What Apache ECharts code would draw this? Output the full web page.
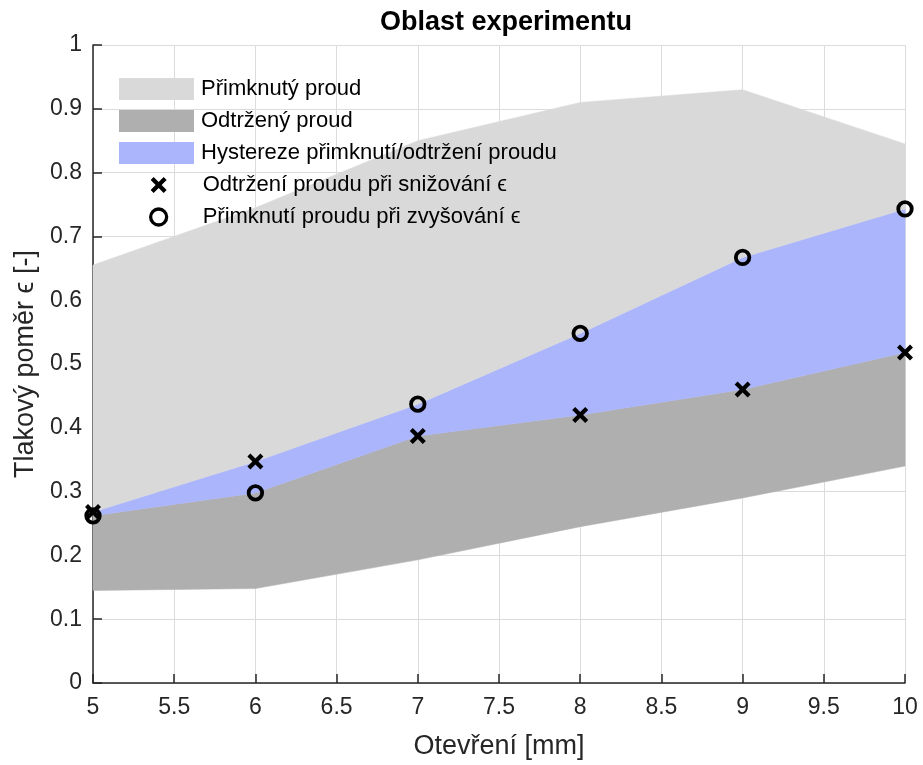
<!DOCTYPE html>
<html>
<head>
<meta charset="utf-8">
<script src="https://cdn.jsdelivr.net/npm/echarts@6/dist/echarts.min.js"></script>
<style>
  html, body { margin: 0; padding: 0; background: #fff; }
  #chart { width: 923px; height: 765px; }
</style>
</head>
<body>
<div id="chart"></div>
<script>
// data
var otevreni = [5, 6, 7, 8, 9, 10];
var odtrzeniX = [0.268, 0.347, 0.387, 0.42, 0.46, 0.518];   // x marks
var primknutiO = [0.262, 0.298, 0.437, 0.548, 0.667, 0.743]; // circles
var dolniMez = [0.145, 0.148, 0.193, 0.245, 0.29, 0.34];     // bottom of dark area
var horniMez = [0.655, 0.745, 0.85, 0.91, 0.93, 0.845];      // top of light area
var xTicks = ['5', '5.5', '6', '6.5', '7', '7.5', '8', '8.5', '9', '9.5', '10'];
var yTicks = ['0', '0.1', '0.2', '0.3', '0.4', '0.5', '0.6', '0.7', '0.8', '0.9', '1'];

var textColor = '#262626';
var font = 'Liberation Sans';

// band edges
var spodek = otevreni.map(function (x, i) { return Math.min(odtrzeniX[i], primknutiO[i]); });
var vrsek = otevreni.map(function (x, i) { return Math.max(odtrzeniX[i], primknutiO[i]); });

function pairs(vals) {
  return otevreni.map(function (x, i) { return [x, vals[i]]; });
}

// one filled polygon between two edges
function band(name, dolni, horni, color) {
  return {
    name: name,
    type: 'custom',
    silent: true,
    itemStyle: { color: color },
    data: [[otevreni[0], horni[0]]],
    renderItem: function (params, api) {
      var pts = [];
      otevreni.forEach(function (x, i) { pts.push(api.coord([x, horni[i]])); });
      for (var i = otevreni.length - 1; i >= 0; i--) pts.push(api.coord([otevreni[i], dolni[i]]));
      return {
        type: 'polygon',
        shape: { points: pts },
        style: { fill: color, stroke: color, lineWidth: 0.5 }
      };
    },
    z: 1
  };
}

var crossPath = 'path://M0,3 L3,0 L8,5 L13,0 L16,3 L11,8 L16,13 L13,16 L8,11 L3,16 L0,13 L5,8 Z';
var kruhStyle = { color: 'rgba(0,0,0,0)', borderColor: '#000', borderWidth: 3.8, opacity: 1 };

var chart = echarts.init(document.getElementById('chart'));
chart.setOption({
  animation: false,
  title: {
    text: 'Oblast experimentu',
    left: 501,
    textAlign: 'center',
    top: 4,
    textStyle: { fontFamily: font, fontSize: 27, fontWeight: 'bold', color: '#000' }
  },
  grid: { left: 93, right: 18, top: 45, bottom: 80 },
  legend: [
    {
      orient: 'vertical',
      left: 119,
      top: 78,
      padding: 0,
      itemWidth: 75,
      itemHeight: 22,
      itemGap: 10,
      icon: 'rect',
      textStyle: { fontFamily: font, fontSize: 22, lineHeight: 22, color: '#000', padding: [0, 0, 0, 2] },
      data: [
        { name: 'Přimknutý proud', itemStyle: { color: '#d9d9d9' } },
        { name: 'Odtržený proud', itemStyle: { color: '#afafaf' } },
        { name: 'Hystereze přimknutí/odtržení proudu', itemStyle: { color: '#abb5fc' } }
      ]
    },
    {
      orient: 'vertical',
      left: 149,
      top: 174,
      padding: 0,
      itemWidth: 16,
      itemHeight: 22,
      itemGap: 10,
      textStyle: { fontFamily: font, fontSize: 22, lineHeight: 22, color: '#000', padding: [0, 0, 0, 31] },
      data: [
        { name: 'Odtržení proudu při snižování ϵ' },
        { name: 'Přimknutí proudu při zvyšování ϵ', itemStyle: { color: 'rgba(0,0,0,0)', borderColor: '#000', borderWidth: 3.3, opacity: 1 } }
      ]
    }
  ],
  xAxis: {
    type: 'value',
    min: 5,
    max: 10,
    interval: 0.5,
    name: 'Otevření [mm]',
    nameLocation: 'middle',
    nameGap: 50,
    nameTextStyle: { fontFamily: font, fontSize: 27, color: textColor },
    axisLine: { lineStyle: { color: textColor, width: 1.5 } },
    axisTick: { inside: true, length: 9, lineStyle: { color: textColor, width: 1.5 } },
    axisLabel: {
      fontFamily: font, fontSize: 23, color: textColor, margin: 13,
      formatter: function (v) { return xTicks[Math.round((v - 5) * 2)]; }
    },
    splitLine: { show: true, lineStyle: { color: '#dcdcdc', width: 1 } }
  },
  yAxis: {
    type: 'value',
    min: 0,
    max: 1,
    interval: 0.1,
    name: 'Tlakový poměr ϵ [-]',
    nameLocation: 'middle',
    nameGap: 54,
    nameTextStyle: { fontFamily: font, fontSize: 27, color: textColor },
    axisLine: { show: true, lineStyle: { color: textColor, width: 1.5 } },
    axisTick: { show: true, inside: true, length: 9, lineStyle: { color: textColor, width: 1.5 } },
    axisLabel: {
      fontFamily: font, fontSize: 23, color: textColor, margin: 11,
      formatter: function (v) { return yTicks[Math.round(v * 10)]; }
    },
    splitLine: { show: true, lineStyle: { color: '#dcdcdc', width: 1 } }
  },
  series: [
    band('Odtržený proud', dolniMez, spodek, '#afafaf'),
    band('Hystereze přimknutí/odtržení proudu', spodek, vrsek, '#abb5fc'),
    band('Přimknutý proud', vrsek, horniMez, '#d9d9d9'),
    {
      name: 'Odtržení proudu při snižování ϵ',
      type: 'scatter',
      data: pairs(odtrzeniX),
      symbol: crossPath,
      symbolSize: 16,
      symbolKeepAspect: true,
      itemStyle: { color: '#000', opacity: 1 },
      z: 5
    },
    {
      name: 'Přimknutí proudu při zvyšování ϵ',
      type: 'scatter',
      data: pairs(primknutiO),
      symbol: 'circle',
      symbolSize: 13.5,
      itemStyle: kruhStyle,
      z: 6
    }
  ]
});
</script>
</body>
</html>
